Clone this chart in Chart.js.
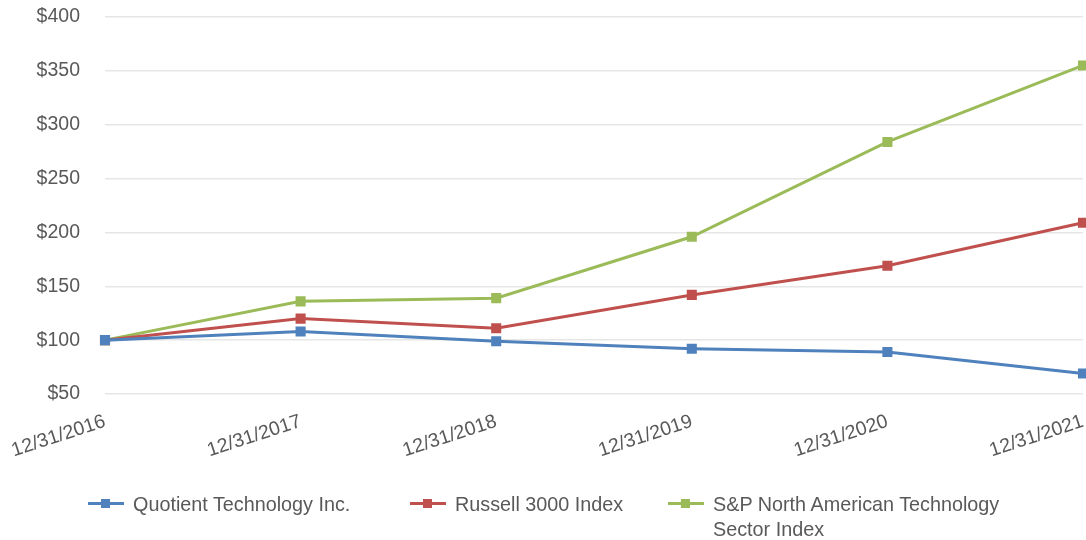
<!DOCTYPE html>
<html>
<head>
<meta charset="utf-8">
<script src="https://cdn.jsdelivr.net/npm/chart.js@4"></script>
<style>
  html, body { margin: 0; padding: 0; background: #fff; }
  #wrap { position: relative; width: 1086px; height: 540px; }
  #c { position: absolute; left: 0; top: 0; }
  #legend { position: absolute; left: 0; top: 492px; width: 1086px; font-family: "Liberation Sans", Arial, sans-serif; font-size: 19.8px; color: #595959; }
  .item { position: absolute; top: 0; display: flex; align-items: flex-start; }
  .mark { position: relative; width: 36px; height: 24px; margin-right: 9px; }
  .mark .ln { position: absolute; left: 0; top: 10px; width: 36px; height: 3px; }
  .mark .sq { position: absolute; left: 13px; top: 7px; width: 9px; height: 9px; }
  .txt { line-height: 25px; }
</style>
</head>
<body>
<div id="wrap">
  <canvas id="c" width="1086" height="540"></canvas>
  <div id="legend"></div>
</div>
<script>
const categories = ["12/31/2016", "12/31/2017", "12/31/2018", "12/31/2019", "12/31/2020", "12/31/2021"];
const quotient = [100, 108, 99, 92, 89, 69];
const russell = [100, 120, 111, 142, 169, 209];
const spTech = [100, 136, 139, 196, 284, 355];
const seriesNames = ["Quotient Technology Inc.", "Russell 3000 Index", ["S&P North American Technology", "Sector Index"]];
const seriesColors = ["#4F81BD", "#C0504D", "#9BBB59"];
const yTicks = [50, 100, 150, 200, 250, 300, 350, 400];

const seriesData = [quotient, russell, spTech];
const datasets = seriesData.map((d, i) => ({
  label: Array.isArray(seriesNames[i]) ? seriesNames[i].join(" ") : seriesNames[i],
  data: d,
  borderColor: seriesColors[i],
  backgroundColor: seriesColors[i],
  borderWidth: 3,
  pointStyle: 'rect',
  pointRadius: 5,
  pointHoverRadius: 5,
  tension: 0,
  fill: false,
  clip: 8
}));

const font = { family: '"Liberation Sans", Arial, sans-serif', size: 19.5 };

new Chart(document.getElementById('c'), {
  type: 'line',
  data: { labels: categories, datasets: datasets },
  options: {
    responsive: false,
    animation: false,
    layout: { autoPadding: false, padding: { left: 0, right: 3, top: 17, bottom: 66 } },
    plugins: { legend: { display: false }, tooltip: { enabled: false } },
    scales: {
      x: {
        afterFit: (ax) => { ax.height = 80; ax.paddingLeft = 0; ax.paddingRight = 0; },
        grid: { display: false, drawTicks: false },
        border: { display: false },
        ticks: { font: font, color: '#595959', minRotation: 18, maxRotation: 18, padding: 16, autoSkip: false }
      },
      y: {
        min: 50, max: 400,
        afterBuildTicks: (ax) => { ax.ticks = yTicks.map(v => ({ value: v })); },
        afterFit: (ax) => { ax.width = 105; ax.paddingTop = 0; ax.paddingBottom = 0; },
        grid: { color: '#e6e6e6', lineWidth: 1.5, drawTicks: false },
        border: { display: false },
        ticks: { font: font, color: '#595959', padding: 25, callback: (v) => '$' + v }
      }
    }
  }
});

// HTML legend (multi-line label support)
const legendPos = [88, 410, 668];
const lg = document.getElementById('legend');
seriesNames.forEach((n, i) => {
  const it = document.createElement('div');
  it.className = 'item';
  it.style.left = legendPos[i] + 'px';
  const lines = Array.isArray(n) ? n : [n];
  it.innerHTML = '<div class="mark"><div class="ln" style="background:' + seriesColors[i] + '"></div><div class="sq" style="background:' + seriesColors[i] + '"></div></div>' +
    '<div class="txt">' + lines.join('<br>') + '</div>';
  lg.appendChild(it);
});
</script>
</body>
</html>
